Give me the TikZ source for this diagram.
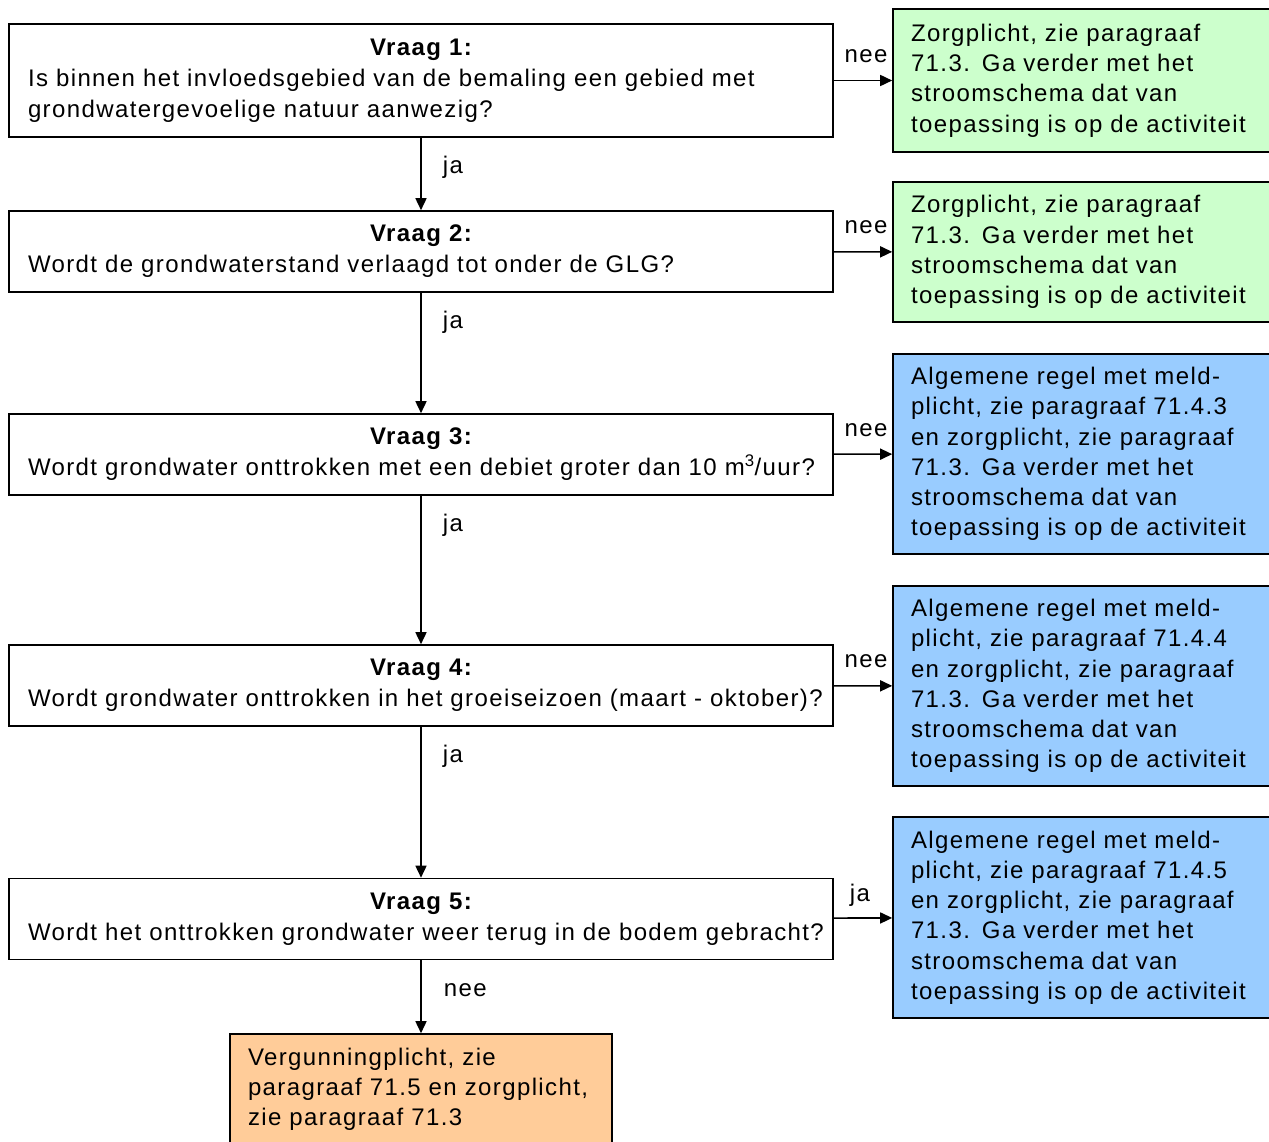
\documentclass[tikz,border=0pt]{standalone}
\usepackage{fontspec}
\setmainfont{Liberation Sans}[LetterSpace=5.8]
\usetikzlibrary{arrows.meta}
\definecolor{zorggroen}{RGB}{204,255,204}
\definecolor{meldblauw}{RGB}{153,204,255}
\definecolor{vergoranje}{RGB}{255,204,153}
\newcommand{\vraagkop}[1]{\makebox[786pt]{\bfseries Vraag #1:}}
\tikzset{
  vraag/.style={draw, line width=1.6pt, fill=white, text width=786pt,
    inner xsep=19pt, minimum height=81pt, align=left,
    font=\fontsize{24}{31}\selectfont},
  uitkomst/.style={draw, line width=1.6pt, text width=354pt, inner xsep=18pt,
    align=left, font=\fontsize{24}{30.2}\selectfont},
  pijl/.style={line width=1.6pt, -{Triangle[length=12pt,width=11pt]}},
  lbl/.style={inner sep=0pt, font=\fontsize{24}{28}\selectfont}
}
\begin{document}
\begin{tikzpicture}[x=1pt, y=-1pt]
  \useasboundingbox (0,0) rectangle (1269,1142);
  \draw
    (421,80.5) node[vraag, minimum height=113pt] (v1){\vraagkop{1}\\
      Is binnen het invloedsgebied van de bemaling een gebied met\\
      grondwatergevoelige natuur aanwezig?}
    (421,251.5) node[vraag] (v2){\vraagkop{2}\\
      Wordt de grondwaterstand verlaagd tot onder de GLG?}
    (421,454.5) node[vraag] (v3){\vraagkop{3}\\
      \mbox{Wordt grondwater onttrokken met een debiet groter dan 10 m\textsuperscript{3}/uur?}}
    (421,685.5) node[vraag] (v4){\vraagkop{4}\\
      \mbox{Wordt grondwater onttrokken in het groeiseizoen (maart - oktober)?}}
    (421,919) node[vraag] (v5){\vraagkop{5}\\
      \mbox{Wordt het onttrokken grondwater weer terug in de bodem gebracht?}}
    (1088,80.5) node[uitkomst, fill=zorggroen, minimum height=143pt] (z1){Zorgplicht, zie paragraaf\\
      71.3. Ga verder met het\\ stroomschema dat van\\ toepassing is op de activiteit}
    (1088,252) node[uitkomst, fill=zorggroen, minimum height=140pt] (z2){Zorgplicht, zie paragraaf\\
      71.3. Ga verder met het\\ stroomschema dat van\\ toepassing is op de activiteit}
    (1088,454) node[uitkomst, fill=meldblauw, minimum height=200pt] (m3){Algemene regel met meld-\\
      plicht, zie paragraaf 71.4.3\\ en zorgplicht, zie paragraaf\\ 71.3. Ga verder met het\\
      stroomschema dat van\\ toepassing is op de activiteit}
    (1088,686) node[uitkomst, fill=meldblauw, minimum height=200pt] (m4){Algemene regel met meld-\\
      plicht, zie paragraaf 71.4.4\\ en zorgplicht, zie paragraaf\\ 71.3. Ga verder met het\\
      stroomschema dat van\\ toepassing is op de activiteit}
    (1088,917.5) node[uitkomst, fill=meldblauw, minimum height=201pt] (m5){Algemene regel met meld-\\
      plicht, zie paragraaf 71.4.5\\ en zorgplicht, zie paragraaf\\ 71.3. Ga verder met het\\
      stroomschema dat van\\ toepassing is op de activiteit}
    (421,1089) node[uitkomst, fill=vergoranje, text width=346pt, minimum height=110pt] (vg){Vergunningplicht, zie\\
      paragraaf 71.5 en zorgplicht,\\ zie paragraaf 71.3};
  \begin{scope}[pijl]
    \draw (v1) to node[lbl, at start, anchor=base west, xshift=21pt, yshift=-36pt]{ja} (v2);
    \draw (v2) to node[lbl, at start, anchor=base west, xshift=21pt, yshift=-36pt]{ja} (v3);
    \draw (v3) to node[lbl, at start, anchor=base west, xshift=21pt, yshift=-36pt]{ja} (v4);
    \draw (v4) to node[lbl, at start, anchor=base west, xshift=21pt, yshift=-36pt]{ja} (v5);
    \draw (v5) to node[lbl, at start, anchor=base west, xshift=22pt, yshift=-36pt]{nee} (vg);
    \draw (v1) to node[lbl, midway, anchor=base, xshift=3pt, yshift=18pt]{nee} (z1);
    \draw (v2) to node[lbl, midway, anchor=base, xshift=3pt, yshift=18pt]{nee} (z2);
    \draw (v3) to node[lbl, midway, anchor=base, xshift=3pt, yshift=18pt]{nee} (m3);
    \draw (v4) to node[lbl, midway, anchor=base, xshift=3pt, yshift=18pt]{nee} (m4);
    \draw (v5) to node[lbl, midway, anchor=base, xshift=-3pt, yshift=17pt]{ja} (m5);
  \end{scope}
\end{tikzpicture}
\end{document}
